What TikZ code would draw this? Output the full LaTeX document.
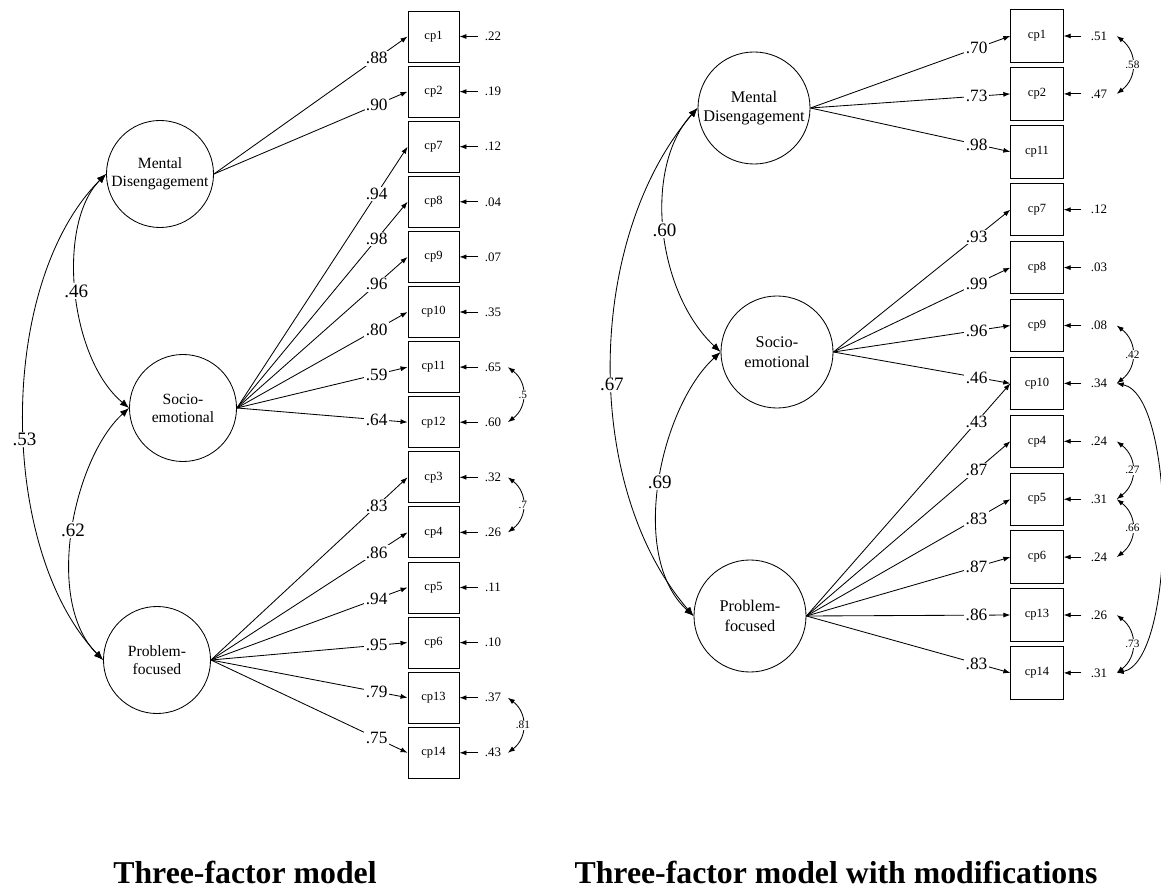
\documentclass[tikz,border=0pt]{standalone}
\usepackage{fontspec}
\setmainfont{Liberation Serif}
\usetikzlibrary{arrows.meta, positioning}

\begin{document}
\begin{tikzpicture}[
    x=0.025cm, y=-0.025cm,
    >={Latex[length=5pt,width=3.6pt]},
    line width=0.6pt,
    latent/.style={circle, draw, minimum size=2.675cm, inner sep=0pt, align=center,
      font=\fontsize{11.1}{12.8}\selectfont},
    obs/.style={rectangle, draw, minimum size=1.275cm, inner sep=0pt,
      font=\fontsize{8.9}{10}\selectfont},
    lbl/.style={fill=white, inner sep=1pt, font=\fontsize{12.3}{14}\selectfont},
    res/.style={inner xsep=4.5pt, inner ysep=1pt, font=\fontsize{9.2}{11}\selectfont},
    cov/.style={{Latex[length=6.5pt,width=5pt]}-{Latex[length=6.5pt,width=5pt]}},
    covlbl/.style={fill=white, inner sep=1pt, font=\fontsize{13.5}{15}\selectfont},
    rcovlbl/.style={fill=white, inner sep=0.5pt, font=\fontsize{8}{9}\selectfont},
    heading/.style={anchor=base, font=\fontsize{22.6}{26}\selectfont\bfseries}
  ]

\useasboundingbox (0,0) rectangle (1161,891);
\clip (0,0) rectangle (1161,891);

% three-factor model
\node[latent] (lMD) at (160,174) {Mental\\Disengagement};
\node[latent] (lSE) at (183,408) {Socio-\\emotional};
\node[latent] (lPF) at (157,660) {Problem-\\focused};

\foreach \i/\e [count=\k from 0] in {1/.22, 2/.19, 7/.12, 8/.04, 9/.07, 10/.35, 11/.65,
    12/.60, 3/.32, 4/.26, 5/.11, 6/.10, 13/.37, 14/.43} {
  \node[obs] (lcp\i) at (433.5,{36.5+55.1*\k}) {cp\i};
  \node[res] (le\i) at (493,{36.5+55.1*\k}) {\e};
  \draw[->] (le\i) -- (lcp\i);
}

\foreach \f/\i/\v/\p in {lMD/1/.88/.841, lMD/2/.90/.841,
    lSE/7/.94/.819, lSE/8/.98/.819, lSE/9/.96/.819, lSE/10/.80/.819, lSE/11/.59/.819, lSE/12/.64/.819,
    lPF/3/.83/.843, lPF/4/.86/.843, lPF/5/.94/.843, lPF/6/.95/.843, lPF/13/.79/.843, lPF/14/.75/.843}
  \draw[->] (\f.east) -- node[lbl, pos=\p] {\v} (lcp\i.west);

\draw[cov] (lMD.west) .. controls +(-50,50) and +(-60,-50) .. node[covlbl] {.46} (lSE.west);
\draw[cov] (lMD.west) .. controls +(-110,110) and +(-105,-110) .. node[covlbl, pos=.54] {.53} (lPF.west);
\draw[cov] (lSE.west) .. controls +(-55,50) and +(-60,-60) .. node[covlbl] {.62} (lPF.west);

\draw[<->] (le11.east) .. controls +(20,15) and +(20,-15) .. node[rcovlbl] {.5} (le12.east);
\draw[<->] (le3.east) .. controls +(20,15) and +(20,-15) .. node[rcovlbl] {.7} (le4.east);
\draw[<->] (le13.east) .. controls +(20,15) and +(20,-15) .. node[rcovlbl] {.81} (le14.east);

% three-factor model with modifications
\node[latent, minimum size=2.8cm, font=\fontsize{11.6}{14}\selectfont] (rMD) at (754,108) {Mental\\Disengagement};
\node[latent, minimum size=2.8cm, font=\fontsize{11.6}{14}\selectfont] (rSE) at (777,352) {Socio-\\emotional};
\node[latent, minimum size=2.8cm, font=\fontsize{11.6}{14}\selectfont] (rPF) at (750,616) {Problem-\\focused};

\node[obs, minimum size=1.31cm] (rcp11) at (1037,{36+57.9*2}) {cp11};
\foreach \i/\k/\e in {1/0/.51, 2/1/.47, 7/3/.12, 8/4/.03, 9/5/.08, 10/6/.34,
    4/7/.24, 5/8/.31, 6/9/.24, 13/10/.26, 14/11/.31} {
  \node[obs, minimum size=1.31cm] (rcp\i) at (1037,{36+57.9*\k}) {cp\i};
  \node[res, inner xsep=6.5pt] (re\i) at (1099,{36+57.9*\k}) {\e};
  \draw[->] (re\i) -- (rcp\i);
}

\foreach \f/\i/\v/\p in {rMD/1/.70/.831, rMD/2/.73/.831, rMD/11/.98/.831,
    rSE/7/.93/.809, rSE/8/.99/.809, rSE/9/.96/.809, rSE/10/.46/.809,
    rPF/10/.43/.834, rPF/4/.87/.834, rPF/5/.83/.834, rPF/6/.87/.834, rPF/13/.86/.834, rPF/14/.83/.834}
  \draw[->] (\f.east) -- node[lbl, pos=\p] {\v} (rcp\i.west);

\draw[cov] (rMD.west) .. controls +(-55,60) and +(-64,-60) .. node[covlbl] {.60} (rSE.west);
\draw[cov] (rMD.west) .. controls +(-112,130) and +(-112,-130) .. node[covlbl, pos=.54] {.67} (rPF.west);
\draw[cov] (rSE.west) .. controls +(-60,55) and +(-66,-60) .. node[covlbl] {.69} (rPF.west);

\draw[<->] (re1.east) .. controls +(21,16) and +(21,-16) .. node[rcovlbl] {.58} (re2.east);
\draw[<->] (re9.east) .. controls +(21,16) and +(21,-16) .. node[rcovlbl] {.42} (re10.east);
\draw[<->] (re4.east) .. controls +(21,16) and +(21,-16) .. node[rcovlbl] {.27} (re5.east);
\draw[<->] (re5.east) .. controls +(21,16) and +(21,-16) .. node[rcovlbl] {.66} (re6.east);
\draw[<->] (re13.east) .. controls +(21,16) and +(21,-16) .. node[rcovlbl] {.73} (re14.east);
\draw[<->] (re10.east) .. controls +(60,12) and +(60,-12) .. (re14.east);

\node[heading] (ltitle) at (245,883) {Three-factor model};
\node[heading] (rtitle) at (836,883) {Three-factor model with modifications};
\end{tikzpicture}
\end{document}
